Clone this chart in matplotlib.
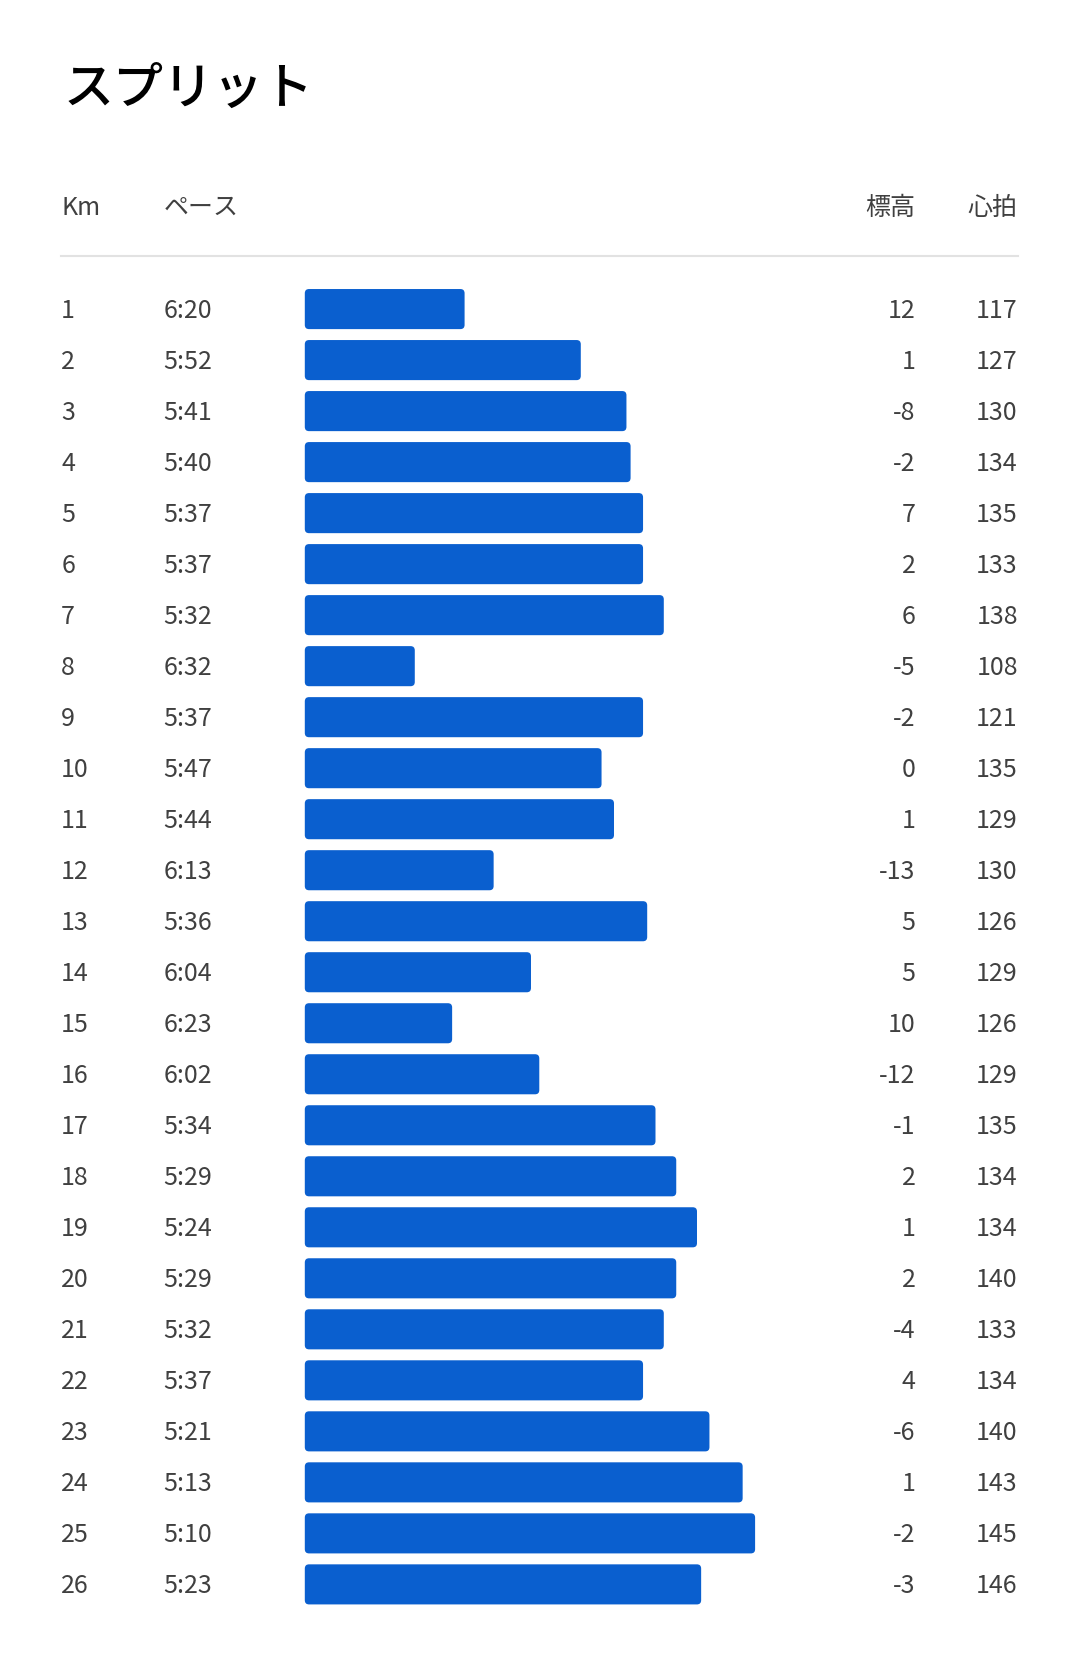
import matplotlib
matplotlib.use("Agg")
import matplotlib.pyplot as plt
from matplotlib.patches import FancyBboxPatch

plt.rcParams['font.family'] = ['Noto Sans CJK JP', 'DejaVu Sans']

# Split data (per km)
km = list(range(1, 27))
pace = ["6:20", "5:52", "5:41", "5:40", "5:37", "5:37", "5:32", "6:32", "5:37", "5:47",
        "5:44", "6:13", "5:36", "6:04", "6:23", "6:02", "5:34", "5:29", "5:24", "5:29",
        "5:32", "5:37", "5:21", "5:13", "5:10", "5:23"]
elevation = [12, 1, -8, -2, 7, 2, 6, -5, -2, 0, 1, -13, 5, 5, 10, -12, -1, 2, 1, 2,
             -4, 4, -6, 1, -2, -3]
heart_rate = [117, 127, 130, 134, 135, 133, 138, 108, 121, 135, 129, 130, 126, 129, 126,
              129, 135, 134, 134, 140, 133, 134, 140, 143, 145, 146]

headers = ["Km", "ペース", "標高", "心拍"]
title = "スプリット"

# pace string -> seconds
pace_sec = [int(p.split(":")[0]) * 60 + int(p.split(":")[1]) for p in pace]

# layout (reference pixel units)
W, H = 1024, 1568
row0, row_step = 293, 48.36
bar_left, bar_h = 289, 38
pace_origin, px_per_sec = 418.5, 3.935
bar_color = "#0a5fcf"
text_color = "#404040"
dy = 2  # nudge text down to sit on the row centre

fig = plt.figure(figsize=(10.8, 16.54), dpi=100)
ax = fig.add_axes([0, 0, 1, 1])
ax.set_xlim(0, W)
ax.set_ylim(H, 0)
ax.axis("off")

ax.text(60, 85, title, fontsize=36, fontweight="medium", color="black",
        ha="left", va="center")

hy = 195 + dy
ax.text(58, hy, headers[0], fontsize=18, color=text_color, ha="left", va="center")
ax.text(155, hy, headers[1], fontsize=18, color=text_color, ha="left", va="center")
ax.text(868, hy, headers[2], fontsize=18, color=text_color, ha="right", va="center")
ax.text(965, hy, headers[3], fontsize=18, color=text_color, ha="right", va="center")
ax.plot([58, 965], [243, 243], color="#e2e2e2", lw=1.5)

rows = [row0 + row_step * i for i in range(len(km))]
widths = [(pace_origin - s) * px_per_sec for s in pace_sec]
bars = ax.barh(rows, widths, left=bar_left, height=bar_h, color=bar_color)
# swap plain bars for slightly rounded ones
for b in bars:
    x, y, w, h = b.get_x(), b.get_y(), b.get_width(), b.get_height()
    b.remove()
    ax.add_patch(FancyBboxPatch((x, y), w, h,
                                boxstyle="round,pad=0,rounding_size=4",
                                fc=bar_color, ec="none"))

for y, k, p, e, hr in zip(rows, km, pace, elevation, heart_rate):
    ty = y + dy
    ax.text(58, ty, str(k), fontsize=18, color=text_color, ha="left", va="center")
    ax.text(155, ty, p, fontsize=18, color=text_color, ha="left", va="center")
    ax.text(868, ty, str(e), fontsize=18, color=text_color, ha="right", va="center")
    ax.text(965, ty, str(hr), fontsize=18, color=text_color, ha="right", va="center")

fig.savefig("out.png", dpi=100, facecolor="white")
